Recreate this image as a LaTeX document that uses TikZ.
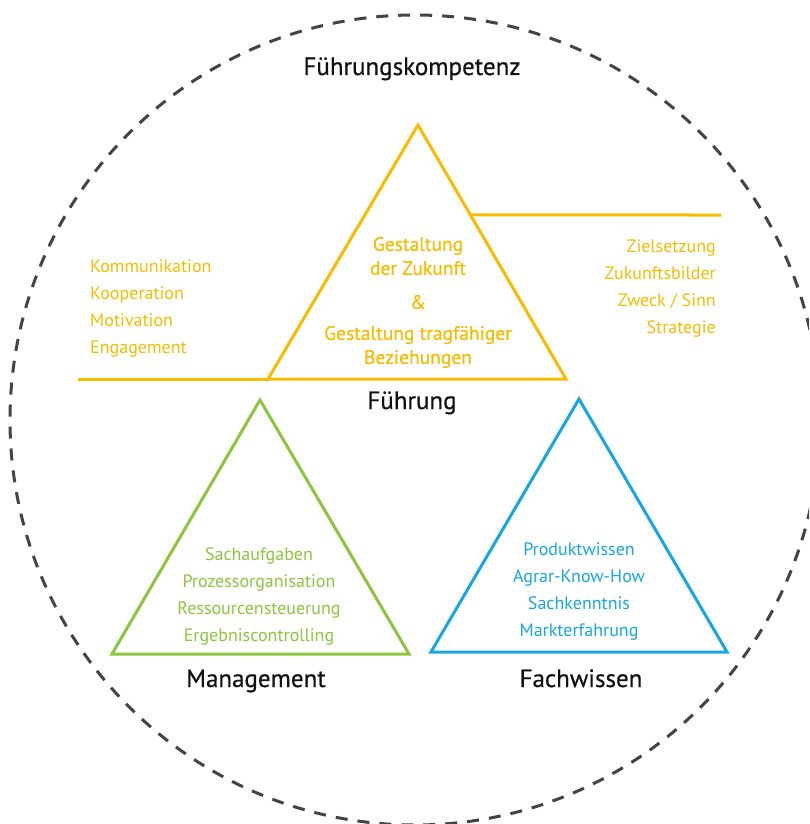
\documentclass[tikz,border=0pt]{standalone}
\usepackage{fontspec}
\usetikzlibrary{calc}
\setmainfont{PT Sans}
\newfontfamily\medfont{PT Sans}[UprightFeatures={FakeBold=0.5}]
\definecolor{fyellow}{HTML}{F7BB00}
\definecolor{mgreen}{HTML}{8CC63F}
\definecolor{fblue}{HTML}{17A6E2}
\definecolor{ringgray}{HTML}{444444}
\definecolor{titleblack}{HTML}{111111}
\begin{document}
\begin{tikzpicture}[x=1pt,y=-1pt,
  tri/.style={line width=3pt, line join=miter},
  title/.style={text=titleblack, font=\medfont\fontsize{25}{28}\selectfont, inner sep=0pt, anchor=base},
  listtext/.style={font=\fontsize{18}{27}\selectfont, inner sep=0pt},
  keytext/.style={font=\medfont\fontsize{19.5}{24}\selectfont, inner sep=0pt, align=center, text=fyellow}]
\useasboundingbox (0,0) rectangle (809,824);
\fill[white] (0,0) rectangle (809,824);

% outer dashed ring
\begin{scope}
\clip (0,0) rectangle (809,824);
\draw[ringgray, line width=3pt, dash pattern=on 12pt off 10pt] (415,420) circle (405);
\end{scope}

% Führung triangle with its two rails
\coordinate (fa) at (418,125);
\coordinate (fl) at (268,379);
\coordinate (fr) at (566,379);
\coordinate (railL) at (78,379);
\coordinate (railRa) at ($(fa)!0.3543!(fr)$);
\coordinate (railRb) at (721,215);
\draw[fyellow, tri] (fa) -- (fr) -- (fl) -- cycle;
\draw[fyellow, line width=3pt] (railL) -- (fl);
\draw[fyellow, line width=3pt] (railRa) -- (railRb);

% Management triangle
\coordinate (ma) at (260,400);
\coordinate (ml) at (112,654);
\coordinate (mr) at (409,654);
\draw[mgreen, tri] (ma) -- (mr) -- (ml) -- cycle;

% Fachwissen triangle
\coordinate (wa) at (579,399);
\coordinate (wl) at (431,652);
\coordinate (wr) at (727,652);
\draw[fblue, tri] (wa) -- (wr) -- (wl) -- cycle;

% titles (placed on their baselines)
\node[title] (tkomp) at (412,75) {Führungskompetenz};
\node[title] (tfuehr) at (412,409) {Führung};
\node[title] (tmgmt) at (256,687) {Management};
\node[title] (tfach) at (581,687) {Fachwissen};

% inside the Führung triangle
\node[keytext] (kz) at (418,256) {Gestaltung\\der Zukunft};
\node[keytext] (kamp) at (418,302) {\&};
\node[keytext] (kb) at (418,347) {Gestaltung tragfähiger\\Beziehungen};

% side lists
\node[listtext, text=fyellow, anchor=west, align=left] (lleft) at (90,309)
  {Kommunikation\\Kooperation\\Motivation\\Engagement};
\node[listtext, text=fyellow, anchor=east, align=right] (lright) at (716,289)
  {Zielsetzung\\Zukunftsbilder\\Zweck / Sinn\\Strategie};

% lists in the lower triangles
\node[listtext, text=mgreen, align=center] (lmgmt) at (259,596)
  {Sachaufgaben\\Prozessorganisation\\Ressourcensteuerung\\Ergebniscontrolling};
\node[listtext, text=fblue, align=center] (lfach) at (579,592)
  {Produktwissen\\Agrar-Know-How\\Sachkenntnis\\Markterfahrung};
\end{tikzpicture}
\end{document}
